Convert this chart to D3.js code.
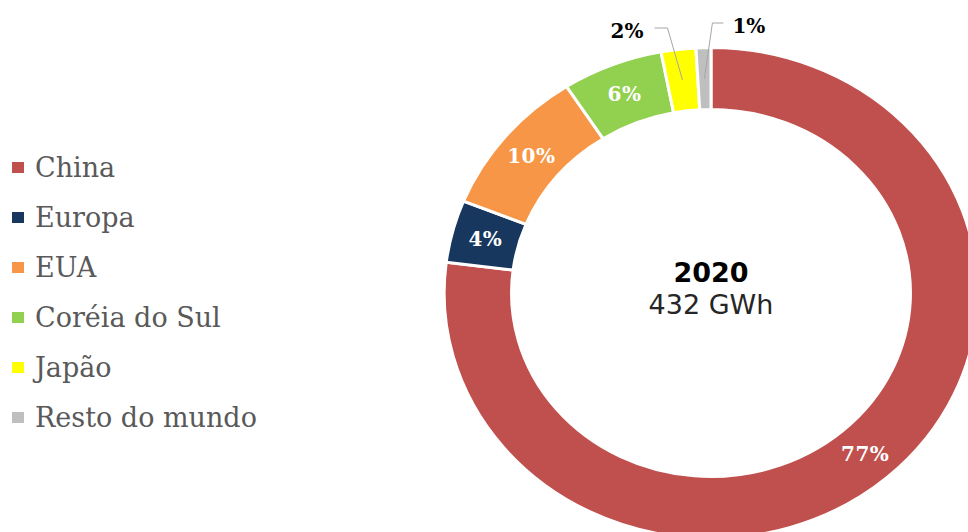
<!DOCTYPE html>
<html>
<head>
<meta charset="utf-8">
<script src="https://cdn.jsdelivr.net/npm/d3@7"></script>
<style>
  body { margin: 0; background: #fff; }
  svg { display: block; }
</style>
</head>
<body>
<script>
// dados do gráfico
const categorias = ['China', 'Europa', 'EUA', 'Coréia do Sul', 'Japão', 'Resto do mundo']
const valores = [77.0, 4.1, 9.8, 6.1, 2.1, 0.9] // % da capacidade em 2020
const cores = ['#C0504D', '#17375E', '#F79646', '#92D050', '#FFFF00', '#BFBFBF']
const ano = '2020'
const total = '432 GWh'

const width = 968
const height = 532

const svg = d3.select('body').append('svg')
  .attr('width', width)
  .attr('height', height)

// o anel está um pouco esticado na horizontal, como no original
const sx = 1.087
const cx = 711, cy = 293
const rOuter = 245.5, rInner = 183.5

const g = svg.append('g').attr('transform', `translate(${cx},${cy})`)
const gArcs = g.append('g').attr('transform', `scale(${sx},1)`)

const color = d3.scaleOrdinal().domain(categorias).range(cores)

const pie = d3.pie().sort(null).value(d => d.valor)
const dados = categorias.map((c, i) => ({ nome: c, valor: valores[i] }))
const arcos = pie(dados)

const arc = d3.arc().innerRadius(rInner).outerRadius(rOuter)
const arcLabel = d3.arc().innerRadius(214.5).outerRadius(214.5)

gArcs.selectAll('path')
  .data(arcos)
  .join('path')
  .attr('d', arc)
  .attr('fill', d => color(d.data.nome))
  .attr('stroke', '#fff')
  .attr('stroke-width', 3)
  .attr('vector-effect', 'non-scaling-stroke')

const soma = d3.sum(valores)
const pct = d => Math.round(d.data.valor / soma * 100) + '%'

// rótulos dentro do anel (fatias grandes)
g.selectAll('text.dentro')
  .data(arcos.filter(d => d.data.valor >= 3))
  .join('text')
  .attr('class', 'dentro')
  .attr('x', d => arcLabel.centroid(d)[0] * sx)
  .attr('y', d => arcLabel.centroid(d)[1])
  .attr('dy', '0.35em')
  .attr('text-anchor', 'middle')
  .attr('font-family', 'DejaVu Serif')
  .attr('font-weight', 'bold')
  .attr('font-size', 20)
  .attr('letter-spacing', 0.5)
  .attr('fill', '#fff')
  .text(pct)

// rótulos fora do anel com linhas de chamada
const chamadas = [
  { dx: -15, elbowY: -265, hx: -28, anchor: 'end', off: -11 }, // Japão
  { dx: 8, elbowY: -270, hx: 19, anchor: 'start', off: 9 } // Resto do mundo
]
const pequenos = arcos.filter(d => d.data.valor < 3)

pequenos.forEach((d, i) => {
  const c = arcLabel.centroid(d)
  const px = c[0] * sx, py = c[1]
  const o = chamadas[i]
  const ex = px + o.dx, ey = o.elbowY
  const hx = px + o.hx
  g.append('polyline')
    .attr('points', [[px, py], [ex, ey], [hx, ey]].map(p => p.join(',')).join(' '))
    .attr('fill', 'none')
    .attr('stroke', '#A6A6A6')
    .attr('stroke-width', 1)
  g.append('text')
    .attr('x', hx + o.off)
    .attr('y', ey + 3)
    .attr('dy', '0.35em')
    .attr('text-anchor', o.anchor)
    .attr('font-family', 'DejaVu Serif')
    .attr('font-weight', 'bold')
    .attr('font-size', 20)
    .attr('fill', '#000')
    .text(pct(d))
})

// texto central
g.append('text')
  .attr('y', -11)
  .attr('text-anchor', 'middle')
  .attr('font-family', 'DejaVu Sans')
  .attr('font-weight', 'bold')
  .attr('font-size', 27)
  .attr('fill', '#000')
  .text(ano)

g.append('text')
  .attr('y', 21)
  .attr('text-anchor', 'middle')
  .attr('font-family', 'DejaVu Sans')
  .attr('font-size', 27)
  .attr('fill', '#262626')
  .text(total)

// legenda
const legenda = svg.append('g').attr('transform', 'translate(12,162)')
const y = d3.scaleBand().domain(categorias).range([0, 300])

const item = legenda.selectAll('g')
  .data(categorias)
  .join('g')
  .attr('transform', d => `translate(0,${y(d)})`)

item.append('rect')
  .attr('width', 12)
  .attr('height', 11)
  .attr('fill', d => color(d))

item.append('text')
  .attr('x', 23)
  .attr('y', 15)
  .attr('font-family', 'DejaVu Serif')
  .attr('font-size', 27)
  .attr('fill', '#595959')
  .text(d => d)
</script>
</body>
</html>
